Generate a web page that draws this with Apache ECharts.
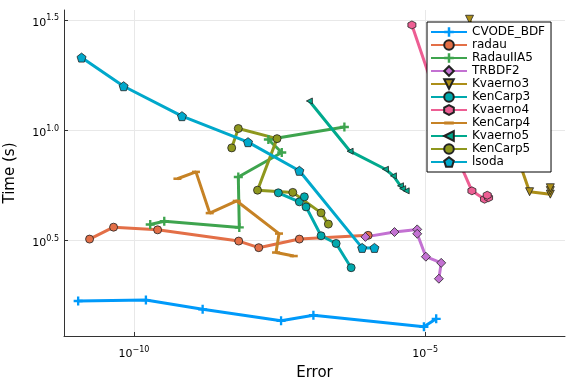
<!DOCTYPE html>
<html>
<head>
<meta charset="utf-8">
<script src="https://cdn.jsdelivr.net/npm/echarts@6/dist/echarts.min.js"></script>
<style>html,body{margin:0;padding:0;background:#fff}#c{width:576px;height:384px}</style>
</head>
<body>
<div id="c"></div>
<script>
// All values are log10 exponents (Error, Time in s)
const seriesNames = ['CVODE_BDF','radau','RadauIIA5','TRBDF2','Kvaerno3','KenCarp3','Kvaerno4','KenCarp4','Kvaerno5','KenCarp5','lsoda'];
const xTicks = [-10, -5];
const yTicks = [0.5, 1.0, 1.5];

const cvodeErr = [-10.957, -9.794, -8.820, -7.474, -6.919, -5.022, -4.811];
const cvodeTime = [0.226, 0.230, 0.188, 0.136, 0.161, 0.109, 0.145];
const radauErr = [-10.761, -10.349, -9.593, -8.201, -7.857, -7.160, -5.979];
const radauTime = [0.507, 0.561, 0.549, 0.498, 0.468, 0.507, 0.524];
const radauIIA5Err = [-9.720, -9.479, -8.191, -8.208, -7.462, -7.692, -6.387];
const radauIIA5Time = [0.573, 0.588, 0.560, 0.789, 0.900, 0.959, 1.016];
const trbdf2Err = [-6.026, -5.527, -5.137, -5.137, -4.988, -4.725, -4.765];
const trbdf2Time = [0.517, 0.539, 0.551, 0.531, 0.427, 0.399, 0.327];
const kvaerno3Err = [-4.239, -3.208, -2.852, -2.852, -2.852];
const kvaerno3Time = [1.505, 0.722, 0.711, 0.727, 0.740];
const kenCarp3Err = [-7.521, -7.160, -7.074, -7.045, -6.787, -6.529, -6.271];
const kenCarp3Time = [0.717, 0.676, 0.699, 0.653, 0.522, 0.487, 0.377];
const kvaerno4Err = [-5.228, -4.467, -4.198, -3.981, -3.912, -3.935];
const kvaerno4Time = [1.479, 0.888, 0.726, 0.688, 0.695, 0.706];
const kenCarp4Err = [-9.253, -8.935, -8.699, -8.235, -7.509, -7.560, -7.256];
const kenCarp4Time = [0.781, 0.812, 0.625, 0.680, 0.532, 0.446, 0.430];
const kvaerno5Err = [-6.988, -6.289, -5.682, -5.545, -5.424, -5.387, -5.326];
const kvaerno5Time = [1.134, 0.906, 0.824, 0.794, 0.749, 0.736, 0.726];
const kenCarp5Err = [-8.321, -8.208, -7.543, -7.878, -7.273, -6.787, -6.662];
const kenCarp5Time = [0.921, 1.009, 0.963, 0.729, 0.719, 0.626, 0.575];
const lsodaErr = [-10.899, -10.177, -9.175, -8.041, -7.160, -6.082, -5.871];
const lsodaTime = [1.331, 1.201, 1.065, 0.947, 0.817, 0.467, 0.467];

const errs = [cvodeErr, radauErr, radauIIA5Err, trbdf2Err, kvaerno3Err, kenCarp3Err, kvaerno4Err, kenCarp4Err, kvaerno5Err, kenCarp5Err, lsodaErr];
const times = [cvodeTime, radauTime, radauIIA5Time, trbdf2Time, kvaerno3Time, kenCarp3Time, kvaerno4Time, kenCarp4Time, kvaerno5Time, kenCarp5Time, lsodaTime];

const colors = ['#009AFA','#E36F47','#3EA44E','#C371D2','#AC8E18','#00A9AD','#ED5E93','#C68225','#00A98D','#8E971D','#00A8CB'];
const CROSS = 'path://M-1.3,-5 L1.3,-5 L1.3,-1.3 L5,-1.3 L5,1.3 L1.3,1.3 L1.3,5 L-1.3,5 L-1.3,1.3 L-5,1.3 L-5,-1.3 L-1.3,-1.3 Z';
const HLINE = 'path://M-5,-5 L-5,-5 M-5,-1.6 L5,-1.6 L5,1.6 L-5,1.6 Z M5,5 L5,5';
const PENT = 'path://M0,-10 L9.51,-3.09 L5.88,8.09 L-5.88,8.09 L-9.51,-3.09 Z';
const HEX = 'path://M0,-10 L8.66,-5 L8.66,5 L0,10 L-8.66,5 L-8.66,-5 Z';
const markers = [
  {symbol: CROSS, size: 9, border: 0},
  {symbol: 'circle', size: 8, border: 0.8},
  {symbol: CROSS, size: 9, border: 0},
  {symbol: 'diamond', size: 9, border: 0.8},
  {symbol: 'triangle', size: 8, border: 0.8, rotate: 180},
  {symbol: 'circle', size: 8, border: 0.8},
  {symbol: HEX, size: 8, border: 0.8},
  {symbol: HLINE, size: 8, border: 0},
  {symbol: 'triangle', size: 6, border: 0.8, rotate: 90},
  {symbol: 'circle', size: 8, border: 0.8},
  {symbol: PENT, size: 9, border: 0.8}
];

const series = seriesNames.map((name, i) => ({
  name: name,
  type: 'line',
  data: errs[i].map((e, j) => [e, times[i][j]]),
  symbol: markers[i].symbol,
  symbolSize: markers[i].size,
  symbolRotate: markers[i].rotate || 0,
  showAllSymbol: true,
  lineStyle: {color: colors[i], width: 3},
  itemStyle: {color: colors[i], borderColor: '#222', borderWidth: markers[i].border},
  emphasis: {disabled: true},
  animation: false,
  z: 2
}));

const chart = echarts.init(document.getElementById('c'), null, {renderer: 'canvas'});
const FONT = 'DejaVu Sans';
chart.setOption({
  animation: false,
  backgroundColor: '#fff',
  textStyle: {fontFamily: FONT},
  grid: {left: 64, right: 11, top: 10, bottom: 48, containLabel: false, outerBoundsMode: 'none'},
  xAxis: {
    type: 'value', min: -11.2, max: -2.6,
    name: 'Error', nameLocation: 'middle', nameGap: 30,
    nameTextStyle: {fontSize: 15, color: '#000', fontFamily: FONT},
    axisLine: {show: true, lineStyle: {color: '#333', width: 1}},
    axisTick: {show: true, inside: true, length: 4, customValues: xTicks, lineStyle: {color: '#333'}},
    axisLabel: {
      customValues: xTicks, margin: 7, color: '#000',
      formatter: v => '{b|10}{s|' + String(v).replace('-', '\u2212') + '}',
      rich: {b: {fontSize: 11, fontFamily: FONT, color: '#000', padding: [6,0,0,0]}, s: {fontSize: 8, fontFamily: FONT, color: '#000', padding: [0,0,4,0]}}
    },
    splitLine: {show: true, lineStyle: {color: '#e8e8e8', width: 1}}
  },
  yAxis: {
    type: 'value', min: 0.067, max: 1.547,
    name: 'Time (s)', nameLocation: 'middle', nameGap: 46,
    nameTextStyle: {fontSize: 15, color: '#000', fontFamily: FONT},
    axisLine: {show: true, lineStyle: {color: '#333', width: 1}},
    axisTick: {show: true, inside: true, length: 4, customValues: yTicks, lineStyle: {color: '#333'}},
    axisLabel: {
      customValues: yTicks, margin: 5, color: '#000',
      formatter: v => '{b|10}{s|' + v.toFixed(1) + '}',
      rich: {b: {fontSize: 11, fontFamily: FONT, color: '#000', padding: [6,0,0,0]}, s: {fontSize: 8, fontFamily: FONT, color: '#000', padding: [0,0,4,0]}}
    },
    splitLine: {show: true, lineStyle: {color: '#e8e8e8', width: 1}}
  },
  legend: {
    orient: 'vertical', left: 427, top: 22, z: 50,
    backgroundColor: '#fff', borderColor: '#000', borderWidth: 1, borderRadius: 0,
    padding: [4, 6, 4, 3],
    itemWidth: 36, itemHeight: 12, itemGap: 1,
    textStyle: {fontSize: 12, color: '#000', fontFamily: FONT},
    data: seriesNames
  },
  series: series
});
</script>
</body>
</html>
